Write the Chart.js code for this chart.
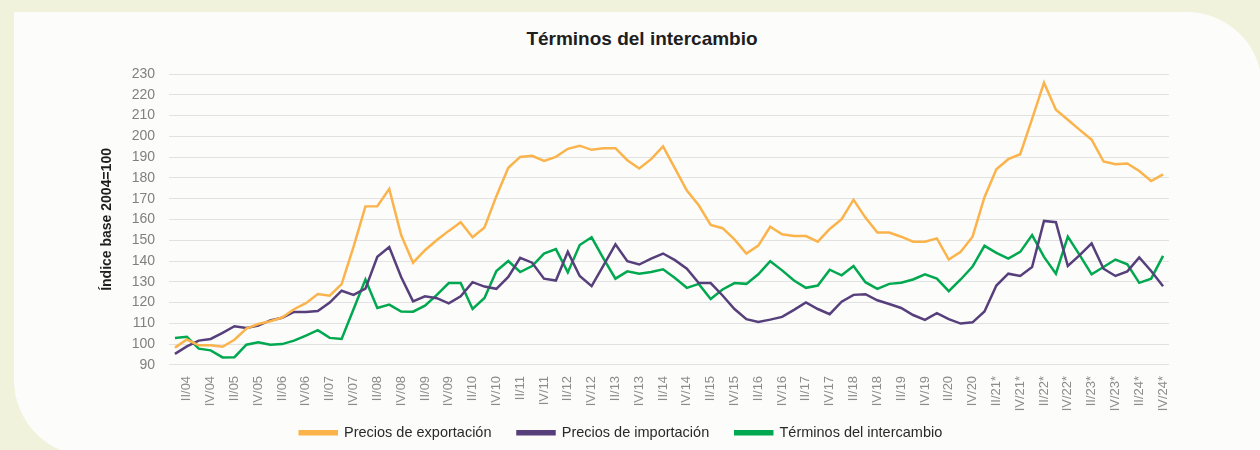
<!DOCTYPE html>
<html>
<head>
<meta charset="utf-8">
<script src="https://cdn.jsdelivr.net/npm/chart.js@4"></script>
<style>
html, body {margin: 0; padding: 0; width: 1260px; height: 450px; overflow: hidden; background: #f0f2dc;}
#card {position: absolute; left: 14px; top: 12px; width: 1248px; height: 444px; background: #fcfcfb; border-radius: 0 75px 0 76px;}
#title {position: absolute; left: 0; top: 28px; width: 1284px; text-align: center; font: bold 19px "Liberation Sans", Arial, sans-serif; color: #1e1e1e;}
canvas {position: absolute; left: 0; top: 0;}
</style>
</head>
<body>
<div id="card"></div>
<div id="title">Términos del intercambio</div>
<canvas id="chart" width="1260" height="450"></canvas>
<script>
const quarters = [
	"I/04", "II/04", "III/04", "IV/04", "I/05", "II/05", "III/05", "IV/05",
	"I/06", "II/06", "III/06", "IV/06", "I/07", "II/07", "III/07", "IV/07",
	"I/08", "II/08", "III/08", "IV/08", "I/09", "II/09", "III/09", "IV/09",
	"I/10", "II/10", "III/10", "IV/10", "I/11", "II/11", "III/11", "IV/11",
	"I/12", "II/12", "III/12", "IV/12", "I/13", "II/13", "III/13", "IV/13",
	"I/14", "II/14", "III/14", "IV/14", "I/15", "II/15", "III/15", "IV/15",
	"I/16", "II/16", "III/16", "IV/16", "I/17", "II/17", "III/17", "IV/17",
	"I/18", "II/18", "III/18", "IV/18", "I/19", "II/19", "III/19", "IV/19",
	"I/20", "II/20", "III/20", "IV/20", "I/21*", "II/21*", "III/21*", "IV/21*",
	"I/22*", "II/22*", "III/22*", "IV/22*", "I/23*", "II/23*", "III/23*", "IV/23*",
	"I/24*", "II/24*", "III/24*", "IV/24*",
];
const exportPrices = [
	98.3, 102.2, 99.4, 99.4, 98.7, 102.1, 107.5, 109.7, 111, 112.8, 116.8, 119.7,
	124.1, 123.3, 128.9, 146.8, 166.3, 166.4, 174.7, 152.5, 139.2, 145.2, 150.1, 154.5,
	158.7, 151.4, 156.1, 171.2, 184.9, 190.1, 190.6, 188.2, 190.1, 194, 195.5, 193.5,
	194.3, 194.3, 188.5, 184.5, 189, 195.2, 184.6, 173.9, 166.8, 157.4, 155.8, 150.4,
	143.6, 147.4, 156.5, 152.9, 152, 152, 149.3, 155.4, 160.1, 169.5, 160.9, 153.7,
	153.7, 151.7, 149.3, 149.3, 150.9, 140.7, 144.4, 151.7, 170.7, 184.1, 189, 191.4,
	208.4, 225.8, 212.8, 208, 203.1, 198.4, 187.9, 186.6, 186.9, 183.3, 178.5, 181.7,
];
const importPrices = [
	95.3, 98.9, 101.7, 102.5, 105.4, 108.6, 107.8, 108.9, 111.4, 112.7, 115.5, 115.5,
	115.9, 120, 125.7, 123.7, 126.7, 142, 146.7, 132.3, 120.6, 123, 122.1, 119.6,
	123, 129.8, 127.7, 126.6, 132.3, 141.5, 139.2, 131.5, 130.6, 144.4, 132.8, 127.9,
	137.9, 148, 139.9, 138.3, 141.2, 143.6, 140.4, 136.3, 129.4, 129.4, 123.4, 116.9,
	112, 110.7, 111.8, 113.1, 116.5, 120.1, 116.9, 114.4, 120.4, 123.7, 124, 121.1,
	119.3, 117.4, 114, 111.7, 114.9, 112, 109.9, 110.5, 115.7, 128.2, 133.9, 132.8,
	137.1, 159.3, 158.7, 137.6, 142.8, 148.5, 136.3, 132.8, 135, 141.7, 135.2, 127.9,
];
const termsOfTrade = [
	103, 103.5, 97.8, 97, 93.6, 93.7, 99.7, 100.9, 99.7, 100, 101.7, 104.1,
	106.7, 103, 102.5, 116.8, 131.1, 117.4, 119, 115.7, 115.6, 118.5, 123.7, 129.4,
	129.4, 116.9, 122.2, 135.2, 140, 134.7, 137.6, 143.6, 145.7, 134.5, 147.7, 151.4,
	141.2, 131.5, 135, 133.9, 134.7, 136, 131.8, 127.1, 129, 121.7, 126.3, 129.4,
	129, 133.6, 139.9, 135.5, 130.6, 127.1, 128.2, 135.8, 133.1, 137.6, 129.8, 126.6,
	129, 129.5, 131.1, 133.6, 131.5, 125.5, 131.1, 137.3, 147.3, 143.9, 141.2, 144.4,
	152.5, 142, 133.9, 151.7, 142.8, 133.6, 137.1, 140.7, 138.4, 129.5, 131.5, 142.5,
];

Chart.defaults.font.family = '"Liberation Sans", Arial, sans-serif';

const series = [
	["Precios de exportación", exportPrices, "#fbb34c"],
	["Precios de importación", importPrices, "#563f7b"],
	["Términos del intercambio", termsOfTrade, "#00a84f"],
];

//Tick labels get clipped to the axis box; let the x axis box run on under the legend so they show in full
const tallTicks = {
	id: "tallTicks",
	afterLayout: chart => {chart.scales.x.bottom += 40; chart.scales.x.height += 40;},
};

new Chart(document.getElementById("chart"), {
	type: "line",
	data: {
		labels: quarters,
		datasets: series.map(([label, data, color]) => ({
			label, data,
			borderColor: color, backgroundColor: color,
			borderWidth: 2.5, pointRadius: 0, tension: 0,
		})),
	},
	options: {
		responsive: false,
		animation: false,
		layout: {padding: {left: 73, right: 91, top: 74, bottom: 0}},
		plugins: {
			legend: {
				position: "bottom",
				labels: {boxWidth: 37, boxHeight: 3, padding: 26, color: "#2a2a2a", font: {size: 14.5}},
			},
			tooltip: {enabled: false},
		},
		scales: {
			x: {
				offset: true,
				grid: {display: false},
				border: {display: false},
				ticks: {
					autoSkip: false, maxRotation: 90, minRotation: 90, padding: 3,
					color: "#8c8c8c", font: {size: 13},
					callback: (v, i) => i % 2 ? quarters[i] : "",
				},
				afterFit: s => {s.height = 34.6;},
			},
			y: {
				min: 90, max: 230,
				grid: {color: "#e2e2e2", drawTicks: false},
				border: {display: false},
				ticks: {stepSize: 10, padding: 14, color: "#808080", font: {size: 14}},
				title: {display: true, text: "Índice base 2004=100", color: "#1e1e1e", font: {size: 14, weight: "bold"}, padding: {top: 26}},
				afterFit: s => {s.width = 96;},
			},
		},
	},
	plugins: [tallTicks],
});
</script>
</body>
</html>
